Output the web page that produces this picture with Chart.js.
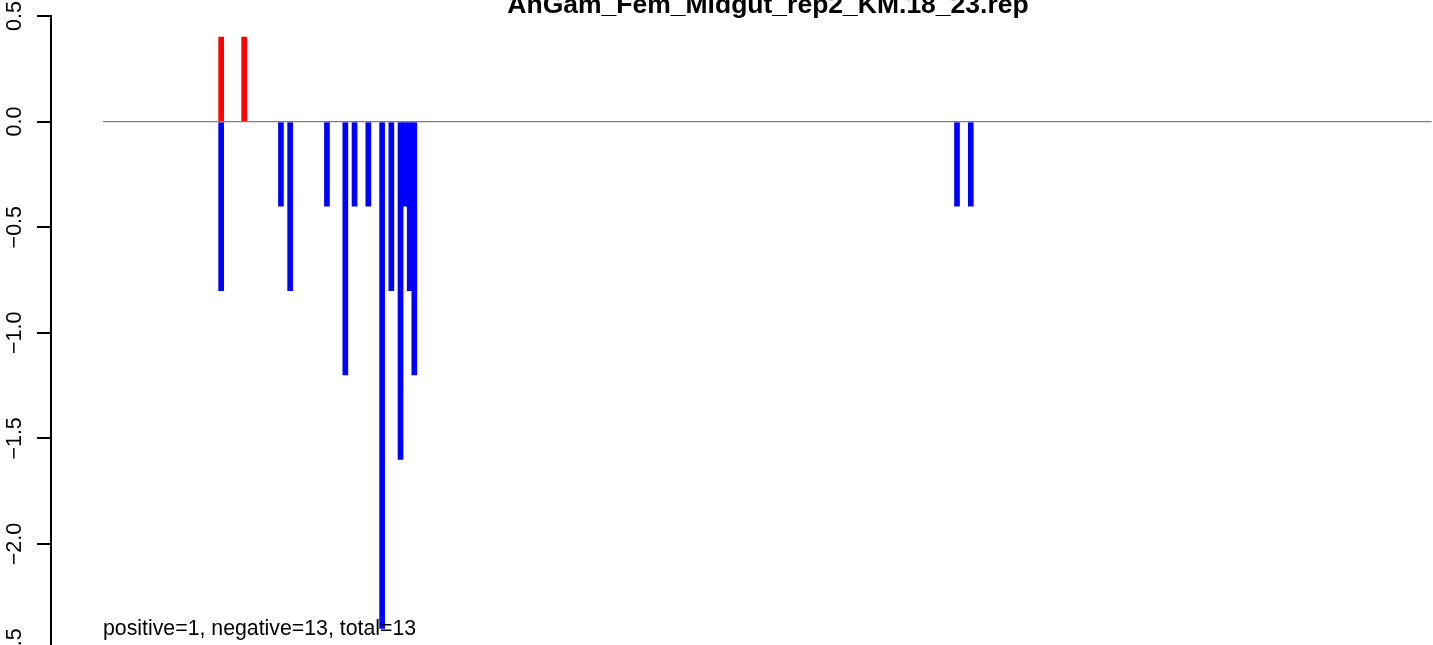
<!DOCTYPE html>
<html>
<head>
<meta charset="utf-8">
<script src="https://cdn.jsdelivr.net/npm/chart.js@4.4.1/dist/chart.umd.min.js"></script>
<style>
  html, body { margin: 0; padding: 0; background: #fff; overflow: hidden; }
  #wrap { position: relative; width: 1433px; height: 656px; }
</style>
</head>
<body>
<div id="wrap"><canvas id="c" width="1433" height="656"></canvas></div>
<script>
// ---- data ----
const chartTitle = "AnGam_Fem_Midgut_rep2_KM.18_23.rep";
const summaryText = "positive=1, negative=13, total=13";

const positivePositions = [25, 30];
const positiveValues    = [0.4, 0.4];

const negativePositions = [25, 38, 40, 48, 52, 54, 57, 60, 62, 64, 65, 66, 67, 185, 188];
const negativeValues    = [-0.8, -0.4, -0.8, -0.4, -1.2, -0.4, -0.4, -2.4, -0.8, -1.6, -0.4, -0.8, -1.2, -0.4, -0.4];

const baselineStart = -0.7;
const baselineEnd = 288.2;

const yTickValues = [0.5, 0.0, -0.5, -1.0, -1.5, -2.0, -2.5];
const yTickLabels = ["0.5", "0.0", "\u22120.5", "\u22121.0", "\u22121.5", "\u22122.0", "\u22122.5"];

const xMin = -12, xMax = 288.5;
const yMin = -2.5, yMax = 0.5;

// ---- build chart ----
const FONT = '"Liberation Sans", Arial, Helvetica, sans-serif';

const overlay = {
  id: 'overlay',
  afterDraw(chart) {
    const ctx = chart.ctx;
    const ys = chart.scales.y;
    ctx.save();
    // y tick labels, rotated like R (las=0)
    ctx.fillStyle = '#000';
    ctx.font = '21.5px ' + FONT;
    ctx.textAlign = 'center';
    ctx.textBaseline = 'middle';
    yTickValues.forEach((v, i) => {
      const py = ys.getPixelForValue(v);
      ctx.save();
      ctx.translate(15.5, py);
      ctx.rotate(-Math.PI / 2);
      ctx.fillText(yTickLabels[i], 0, 0);
      ctx.restore();
    });
    // title (partly cut off at the top, as in the reference)
    ctx.font = 'bold 26.5px ' + FONT;
    ctx.textAlign = 'center';
    ctx.textBaseline = 'alphabetic';
    ctx.fillText(chartTitle, 768, 12.5);
    // summary text
    ctx.font = '21.3px ' + FONT;
    ctx.textAlign = 'left';
    ctx.fillText(summaryText, 103, 635);
    ctx.restore();
  }
};

new Chart(document.getElementById('c'), {
  type: 'bar',
  data: {
    datasets: [
      {
        type: 'line',
        data: [{x: baselineStart, y: 0}, {x: baselineEnd, y: 0}],
        borderColor: '#808080',
        borderWidth: 1.3,
        pointRadius: 0,
        order: 0
      },
      {
        data: positivePositions.map((p, i) => ({x: p, y: positiveValues[i]})),
        backgroundColor: '#ff0000',
        barThickness: 5,
        grouped: false,
        order: 1
      },
      {
        data: negativePositions.map((p, i) => ({x: p, y: negativeValues[i]})),
        backgroundColor: '#0000ff',
        barThickness: 5,
        grouped: false,
        order: 2
      }
    ]
  },
  options: {
    responsive: false,
    animation: false,
    events: [],
    layout: { padding: { top: 16, right: 0, bottom: 6.4, left: 0 } },
    plugins: { legend: { display: false }, tooltip: { enabled: false }, title: { display: false } },
    scales: {
      x: {
        type: 'linear', min: xMin, max: xMax, offset: false, display: false,
        grid: { display: false }
      },
      y: {
        min: yMin, max: yMax,
        afterFit: s => { s.width = 51; },
        afterBuildTicks: s => { s.ticks = yTickValues.map(v => ({value: v})); },
        ticks: { display: false },
        grid: { display: true, drawOnChartArea: false, drawTicks: true, tickLength: 14, color: '#000', lineWidth: 2 },
        border: { display: true, color: '#000', width: 2 }
      }
    }
  },
  plugins: [overlay]
});
</script>
</body>
</html>
